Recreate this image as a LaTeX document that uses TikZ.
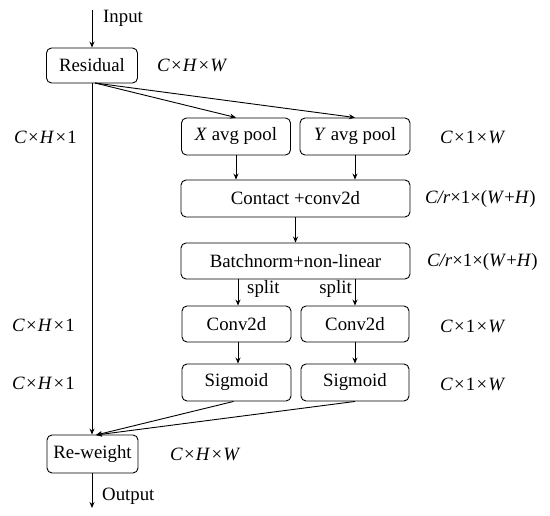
\documentclass[tikz,border=0pt]{standalone}
\usepackage{fontspec}
\setmainfont{Liberation Serif}
\usetikzlibrary{arrows.meta}
\newcommand{\tms}{\kern1.2pt×\kern1.2pt}
\begin{document}
\begin{tikzpicture}[x=1pt,y=-1pt,
  font=\fontsize{18.8}{21}\selectfont,
  box/.style={draw, rounded corners=5pt, line width=0.9pt, inner sep=0pt, align=center},
  conn/.style={line width=0.9pt},
  arr/.style={conn, -{Stealth[length=6pt,width=5pt]}},
  lab/.style={anchor=west, inner sep=0pt}
]
\useasboundingbox (0,0) rectangle (550,516);
% boxes
\node[box, minimum width=91pt, minimum height=35pt] (res) at (92,65.5) {Residual};
\node[box, minimum width=109pt, minimum height=37pt] (xp) at (236,136.5) {\textit{X} avg pool};
\node[box, minimum width=110pt, minimum height=37pt] (yp) at (355,136.5) {\textit{Y} avg pool};
\node[box, minimum width=229pt, minimum height=37pt] (cc) at (295.5,198.5) {Contact +conv2d};
\node[box, minimum width=229pt, minimum height=36pt] (bn) at (295.5,261) {Batchnorm+non-linear};
\node[box, minimum width=109pt, minimum height=36pt] (c1) at (236.5,324) {Conv2d};
\node[box, minimum width=108pt, minimum height=36pt] (c2) at (355,324) {Conv2d};
\node[box, minimum width=109pt, minimum height=37pt] (s1) at (236.5,382.5) {Sigmoid};
\node[box, minimum width=108pt, minimum height=37pt] (s2) at (355,382.5) {Sigmoid};
\node[box, minimum width=91pt, minimum height=38pt] (rw) at (92.5,454) {Re-weight};
% free ends
\coordinate (in) at (92,10);
\coordinate (out) at (92,508);
\coordinate (rs) at (95,83);
\coordinate (rwt) at (96,435);
% connectors
\draw[arr] (in) -- (res.north -| in);
\draw[arr] (rs) -- (xp.north);
\draw[arr] (rs) -- (yp.north);
\draw[arr] (res.south -| in) -- (rw.north -| in);
\draw[arr] (xp.south) -- (xp.south |- cc.north);
\draw[arr] (yp.south) -- (yp.south |- cc.north);
\draw[arr] (cc.south) -- (bn.north);
\draw[arr] ([xshift=1.5pt]c1.north |- bn.south) -- ([xshift=1.5pt]c1.north);
\draw[arr] (c2.north |- bn.south) -- (c2.north);
\draw[arr] ([xshift=1.5pt]c1.south) -- ([xshift=1.5pt]s1.north);
\draw[arr] (c2.south) -- (s2.north);
\draw[arr] ([xshift=-3pt]s1.south) -- (rwt);
\draw[arr] (s2.south) -- (rwt);
\draw[arr] (rw.south -| out) -- (out);
% labels
\node[lab] (tin) at (103,18) {Input};
\node[lab] (l1) at (157,65.5) {\textit{C}\tms\textit{H}\tms\textit{W}};
\node[lab] (l2) at (14,137) {\textit{C}\tms\textit{H}\tms1};
\node[lab] (l3) at (440,137) {\textit{C}\tms1\tms\textit{W}};
\node[lab] (l4) at (425,198.5) {\textit{C/r}×1×(\textit{W}+\textit{H})};
\node[lab] (l5) at (427,262) {\textit{C/r}×1×(\textit{W}+\textit{H})};
\node[lab] (sp1) at (247,289) {split};
\node[anchor=east, inner sep=0pt] (sp2) at (352,289) {split};
\node[lab] (l6) at (12,325) {\textit{C}\tms\textit{H}\tms1};
\node[lab] (l7) at (440,326) {\textit{C}\tms1\tms\textit{W}};
\node[lab] (l8) at (12,383) {\textit{C}\tms\textit{H}\tms1};
\node[lab] (l9) at (440,384) {\textit{C}\tms1\tms\textit{W}};
\node[lab] (l10) at (170,454) {\textit{C}\tms\textit{H}\tms\textit{W}};
\node[lab] (tout) at (102,496) {Output};
\end{tikzpicture}
\end{document}
